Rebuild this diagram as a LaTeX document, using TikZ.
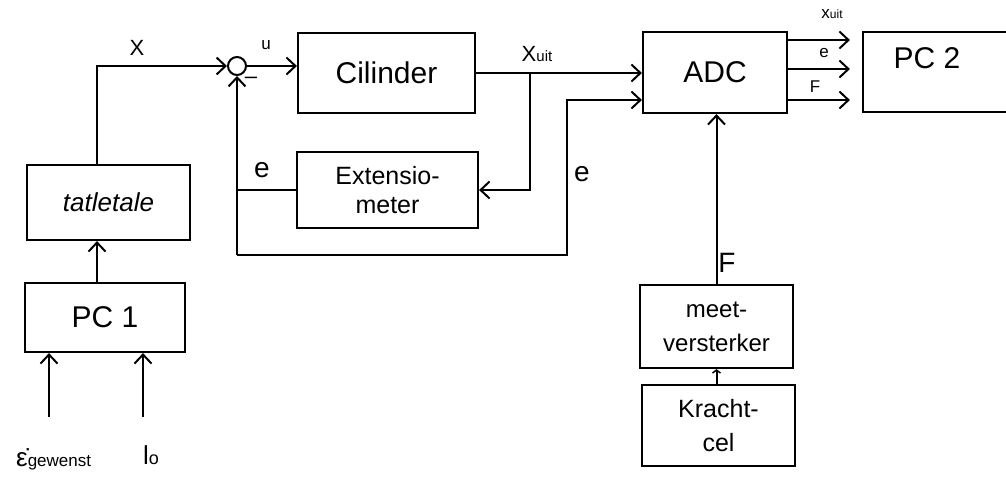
\documentclass[tikz,border=0pt]{standalone}
\usepackage{fontspec}
\setmainfont{Liberation Sans}
\usetikzlibrary{arrows.meta,calc}
\tikzset{
  blk/.style={draw, line width=2.2pt, minimum width=#1, inner sep=2pt, align=center},
  wire/.style={line width=2pt},
  arr/.style={wire, -{Straight Barb[length=9pt,width=17pt,line width=2pt]}},
  big/.style={font=\fontsize{30}{32}\selectfont},
  lbl/.style={font=\fontsize{22}{24}\selectfont, inner sep=0pt},
  sml/.style={font=\fontsize{17}{19}\selectfont, inner sep=0pt}
}
\begin{document}
\begin{tikzpicture}[x=1pt,y=-1pt]
\useasboundingbox (0,0) rectangle (1006,477);
% blocks
\node[blk=163pt, minimum height=75pt, font=\fontsize{26}{30}\selectfont\itshape] (tat) at (108.5,202.5) {tatletale};
\node[blk=160pt, minimum height=69pt, big] (pc1) at (105,317.5) {PC 1};
\node[blk=177pt, minimum height=80pt, big] (cil) at (386.5,73) {Cilinder};
\node[blk=181pt, minimum height=76pt, font=\fontsize{25}{29}\selectfont] (ext) at (387.5,190) {Extensio-\\meter};
\node[blk=144pt, minimum height=81pt, big] (adc) at (715,72.5) {ADC};
\node[blk=190pt, minimum height=80pt] (pc2) at (958,72) {};
\node[big, inner sep=0pt] (pc2t) at (927,58) {PC 2};
\node[blk=153pt, minimum height=83pt, font=\fontsize{24}{34}\selectfont] (meet) at (716.5,326.5) {meet-\\versterker};
\node[blk=153pt, minimum height=81pt, font=\fontsize{25}{34}\selectfont] (kr) at (718.5,425.5) {Kracht-\\cel};
\node[draw, circle, line width=2pt, minimum size=18pt, inner sep=0pt] (sum) at (237,66) {};
\node[lbl] (minus) at (251,80) {–};
% input coordinates
\coordinate (epsin) at (49,417);
\coordinate (l0in) at (143,417);
\coordinate (br) at (530,72);
\coordinate (lb) at (567,255);
% connectors
\draw[arr] (epsin) -- (epsin |- pc1.south);
\draw[arr] (l0in) -- (l0in |- pc1.south);
\draw[arr] ([xshift=-8pt]pc1.north) -- ([xshift=-8pt]pc1.north |- tat.south);
\draw[arr] ([xshift=-11.5pt]tat.north) |- (sum.west);
\draw[arr] (sum.east) -- (sum.east -| cil.west);
\draw[arr] (cil.east) -- (cil.east -| adc.west);
\draw[arr] (br) |- (ext.east);
\draw[arr] (sum.south |- lb) -- (sum.south);
\draw[wire] (ext.west) -- (ext.west -| sum.south);
\draw[arr] (sum.south |- lb) -- (lb) |- ([yshift=-27.5pt]adc.west);
\draw[arr] ([yshift=32.5pt]adc.east) -- ([yshift=32.5pt,xshift=-12pt]adc.east -| pc2.west);
\draw[arr] ([yshift=3.5pt]adc.east) -- ([yshift=3.5pt,xshift=-12pt]adc.east -| pc2.west);
\draw[arr] ([yshift=-27.5pt]adc.east) -- ([yshift=-27.5pt,xshift=-12pt]adc.east -| pc2.west);
\draw[arr] (meet.north) -- (meet.north |- adc.south);
\draw[wire, -{Straight Barb[length=3pt,width=8pt,line width=1.5pt]}] ([xshift=-2pt]kr.north) -- ([xshift=-2pt]kr.north |- meet.south);
% labels
\node[lbl] (lx) at (137,48) {X};
\node[sml] (lu) at (266,45) {u};
\node[lbl, font=\fontsize{28}{30}\selectfont] (le1) at (262,170) {e};
\node[lbl, font=\fontsize{28}{30}\selectfont] (le2) at (582,174) {e};
\node[lbl] (lxuit) at (537,54) {X{\fontsize{15}{17}\selectfont uit}};
\node[sml] (oxuit) at (832,14) {x{\fontsize{12}{14}\selectfont uit}};
\node[sml] (oe) at (824,53) {e};
\node[sml] (of) at (815,87) {F};
\node[lbl, font=\fontsize{28}{30}\selectfont] (lf) at (727,263) {F};
\node[lbl, anchor=base west, font=\fontsize{26}{28}\selectfont] (leps) at (16,466) {ε̇{\fontsize{17}{19}\selectfont gewenst}};
\node[lbl, anchor=base west, font=\fontsize{26}{28}\selectfont] (ll0) at (143,464) {l{\fontsize{18}{20}\selectfont o}};
\end{tikzpicture}
\end{document}
